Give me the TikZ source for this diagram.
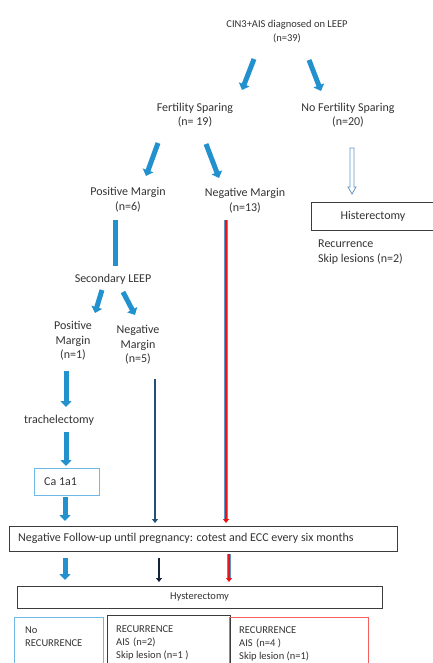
\documentclass[tikz,border=0pt]{standalone}
\usepackage{fontspec}
\setmainfont{Carlito}
\usetikzlibrary{arrows.meta,calc}
\definecolor{ablue}{RGB}{35,145,205}
\definecolor{lblue}{RGB}{110,185,230}
\definecolor{hblue}{RGB}{95,150,200}
\definecolor{dblue}{RGB}{35,80,120}
\definecolor{dblack}{RGB}{20,35,55}
\definecolor{ared}{RGB}{235,20,20}
\definecolor{lred}{RGB}{245,95,95}
\definecolor{txt}{RGB}{50,50,50}
\definecolor{bgray}{RGB}{60,60,60}
\tikzset{
  lbl/.style={text=txt, font=\fontsize{12}{14.5}\selectfont, align=center, inner sep=0pt},
  lbll/.style={text=txt, font=\fontsize{12}{14.5}\selectfont, align=left, inner sep=0pt},
  sml/.style={text=txt, font=\fontsize{10.5}{13}\selectfont, align=left, inner sep=0pt},
  blockarrow/.style={draw=ablue, line width=5pt, -{Triangle[width=11pt,length=6pt]}},
  blockbar/.style={draw=ablue, line width=5pt},
  thinarrow/.style={line width=2.5pt, -{Triangle[width=6pt,length=4pt]}},
  boxk/.style={draw=bgray, line width=0.9pt},
}
\begin{document}
\begin{tikzpicture}[x=1pt,y=-1pt]
\useasboundingbox (0,0) rectangle (433,663);
% text nodes
\node[lbl, font=\fontsize{10.5}{14}\selectfont] (root) at (287,32) {CIN3+AIS diagnosed on LEEP\\(n=39)};
\node[lbl] (fs) at (195,115) {Fertility Sparing\\(n= 19)};
\node[lbl] (nfs) at (348,115) {No Fertility Sparing\\(n=20)};
\node[lbl] (pm) at (128,199.5) {Positive Margin\\(n=6)};
\node[lbl] (nm) at (245,200.5) {Negative Margin\\(n=13)};
\node[lbl] (hist) at (373,216) {Histerectomy};
\draw[boxk] (434,202) -- (311,202) -- (311,230) -- (434,230);
\node[lbll, anchor=north west] (rec) at (318,240) {Recurrence\\Skip lesions (n=2)};
\node[lbl] (sec) at (113,279) {Secondary LEEP};
\node[lbl] (pm2) at (73,341) {Positive\\Margin\\(n=1)};
\node[lbl] (nm2) at (138,345) {Negative\\Margin\\(n=5)};
\node[lbl] (trach) at (59,420) {trachelectomy};
\node[draw=lblue, line width=0.9pt, minimum width=65pt, minimum height=27pt, inner sep=0pt] (ca) at (66.5,481.5) {};
\node[lbll, anchor=west] (catxt) at (44,481.5) {Ca 1a1};
\node[boxk, minimum width=388pt, minimum height=25pt, inner sep=0pt] (fu) at (203,538.5) {};
\node[lbll, anchor=west] (futxt) at (18,538.5) {Negative Follow-up until pregnancy: cotest and ECC every six months};
\node[boxk, minimum width=365pt, minimum height=22pt, inner sep=0pt, text=txt, font=\fontsize{10.5}{13}\selectfont] (hyst) at (199.5,597) {Hysterectomy};
% bottom boxes (open at the bottom edge)
\draw[lblue, line width=0.9pt] (14,666) -- (14,617) -- (103,617) -- (103,666);
\draw[boxk] (107,666) -- (107,615.5) -- (230,615.5) -- (230,666);
\draw[lred, line width=0.9pt] (229,666) -- (229,617) -- (368,617) -- (368,666);
\node[sml, anchor=north west] (b1) at (25,627) {No\\RECURRENCE};
\node[sml, anchor=north west] (b2) at (116,625) {RECURRENCE\\AIS\,\,(n=2)\\Skip lesion (n=1 )};
\node[sml, anchor=north west] (b3) at (239,626) {RECURRENCE\\AIS\,\,(n=4 )\\Skip lesion (n=1)};
% arrow end coordinates
\coordinate (r1s) at (254,59); \coordinate (r1e) at (242,90);
\coordinate (r2s) at (309,60); \coordinate (r2e) at (321,91);
\coordinate (f1s) at (158,143); \coordinate (f1e) at (146,176);
\coordinate (f2s) at (206,144); \coordinate (f2e) at (219,178);
\coordinate (p1s) at (115,220); \coordinate (p1e) at (115,266);
\coordinate (s1s) at (102,290); \coordinate (s1e) at (95,313);
\coordinate (s2s) at (123,292); \coordinate (s2e) at (135,315);
\coordinate (q1s) at (66,371); \coordinate (q1e) at (66,407);
\coordinate (t1s) at (66,432); \coordinate (t1e) at (66,466);
\coordinate (c1s) at (65,497); \coordinate (c1e) at (65,521);
\coordinate (u1s) at (65,558); \coordinate (u1e) at (65,580);
\coordinate (nbs) at (155,379); \coordinate (nbe) at (155,523);
\coordinate (u2s) at (159,558); \coordinate (u2e) at (159,582);
\coordinate (rds) at (226,220); \coordinate (rde) at (226,523);
\coordinate (u3s) at (229,554); \coordinate (u3e) at (229,582);
% block arrows
\draw[blockarrow] (r1s) -- (r1e);
\draw[blockarrow] (r2s) -- (r2e);
\draw[blockarrow] (f1s) -- (f1e);
\draw[blockarrow] (f2s) -- (f2e);
\draw[blockbar] (p1s) -- (p1e);
\draw[blockarrow] (s1s) -- (s1e);
\draw[blockarrow] (s2s) -- (s2e);
\draw[blockarrow] (q1s) -- (q1e);
\draw[blockarrow] (t1s) -- (t1e);
\draw[blockarrow] (c1s) -- (c1e);
\draw[blockarrow] (u1s) -- (u1e);
% hollow arrow for No Fertility Sparing
\coordinate (hs) at (352,148); \coordinate (he) at (352,194);
\draw[hblue, line width=0.8pt, fill=white]
  ($(hs)+(-2,0)$) -- ($(hs)+(2,0)$) -- ($(he)+(2,-7)$) -- ($(he)+(4,-7)$) -- (he)
  -- ($(he)+(-4,-7)$) -- ($(he)+(-2,-7)$) -- cycle;
% dark blue line and black arrow
\draw[thinarrow, dblue] (nbs) -- (nbe);
\draw[thinarrow, dblack] (u2s) -- (u2e);
% red lines with thin blue edging
\draw[hblue, line width=4pt] (rds) -- ($(rde)+(0,-4)$);
\draw[thinarrow, ared] (rds) -- (rde);
\draw[hblue, line width=4pt] (u3s) -- ($(u3e)+(0,-4)$);
\draw[thinarrow, ared] (u3s) -- (u3e);
\end{tikzpicture}
\end{document}
